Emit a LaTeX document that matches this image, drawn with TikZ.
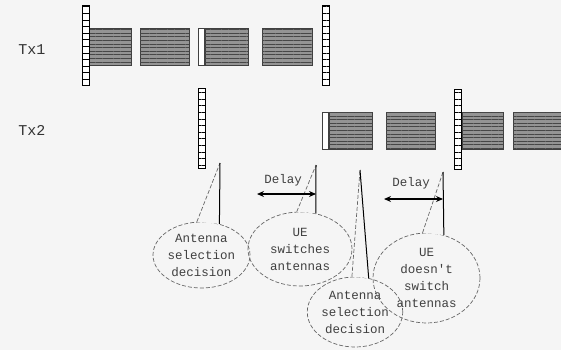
\documentclass[tikz,border=0pt]{standalone}
\usepackage{fontspec}
\setmonofont{Liberation Mono}
\usetikzlibrary{shapes.geometric,patterns.meta,arrows.meta}

\begin{document}
\begin{tikzpicture}[x=1pt,y=-1pt,
  txlabel/.style={font=\ttfamily\fontsize{15}{17}\selectfont,text=black!80},
  pilot/.style={draw,line width=0.7pt,fill=white,minimum width=7pt,minimum height=80pt,inner sep=0pt,
    postaction={pattern={Lines[distance=6.6pt,line width=0.7pt]}}},
  block/.style={draw=black!75,fill=black!42,minimum height=37pt,inner sep=0pt,
    postaction={pattern={Lines[distance=3.6pt,line width=0.6pt]},pattern color=black!72}},
  cp/.style={draw=black!75,fill=white,minimum width=6pt,minimum height=37pt,inner sep=0pt},
  callout/.style={ellipse,draw=black!60,dash pattern=on 4pt off 2pt,line width=0.7pt,inner sep=0pt,
    align=center,text=black!75,font=\ttfamily\fontsize{12.5}{17}\selectfont},
  pointer/.style={draw=black!60,dash pattern=on 4pt off 2pt,line width=0.7pt},
  marker/.style={draw,line width=1pt},
  delay/.style={draw,line width=1.6pt,{Stealth[length=7pt,width=6pt]}-{Stealth[length=7pt,width=6pt]}},
  delaytext/.style={font=\ttfamily\fontsize{12.5}{14}\selectfont,text=black!75}]
\fill[black!4] (0,0) rectangle (561,350);
\useasboundingbox (0,0) rectangle (561,350);
% Tx1
\node[txlabel] (tx1) at (32,50) {Tx1};
\node[block,minimum width=42pt] (a1) at (110,46.5) {};
\node[pilot] (p1) at (85.5,45) {};
\node[block,minimum width=49pt] (a2) at (164.5,46.5) {};
\node[block,minimum width=43pt] (a3) at (226.5,46.5) {};
\node[cp,anchor=east] (a3c) at (a3.west) {};
\node[block,minimum width=50pt] (a4) at (287,46.5) {};
\node[pilot] (p2) at (325.5,45) {};
% Tx2
\node[txlabel] (tx2) at (32,130) {Tx2};
\node[pilot] (p3) at (201.5,128.5) {};
\node[block,minimum width=43pt] (b1) at (350.5,130.5) {};
\node[cp,anchor=east] (b1c) at (b1.west) {};
\node[block,minimum width=49pt] (b2) at (410.5,130.5) {};
\node[block,minimum width=41pt] (b3) at (482.5,130.5) {};
\node[pilot] (p4) at (458,129.5) {};
\node[block,minimum width=48pt] (b4) at (537,130.5) {};
% callouts
\node[callout,minimum width=97pt,minimum height=66pt] (e1) at (201.5,255) {Antenna\\selection\\decision};
\node[callout,minimum width=104pt,minimum height=74pt] (e2) at (300,249) {UE\\switches\\antennas};
\node[callout,minimum width=94pt,minimum height=70pt] (e3) at (355,312) {Antenna\\selection\\decision};
\node[callout,minimum width=107pt,minimum height=90pt] (e4) at (426.5,278) {UE\\doesn't\\switch\\antennas};
\coordinate (t1) at (220,163);
\coordinate (t2) at (316,165);
\coordinate (t3) at (360,170);
\coordinate (t4) at (443,172);
\foreach \e/\t/\l/\r in {e1/t1/98/60,e2/t2/95/66,e3/t3/95/68,e4/t4/95/68} {
  \fill[black!4] (\e.\l) -- (\t) -- (\e.\r) -- cycle;
  \draw[pointer] (\e.\l) -- (\t);
  \draw[marker] (\t) -- (\e.\r);
}
% delays
\node[delaytext] (d1) at (283,180) {Delay};
\coordinate (d1a) at (257,194);
\draw[delay] (d1a) -- (d1a -| t2);
\node[delaytext] (d2) at (411,183) {Delay};
\coordinate (d2a) at (384,199);
\draw[delay] (d2a) -- (d2a -| t4);
\end{tikzpicture}
\end{document}
